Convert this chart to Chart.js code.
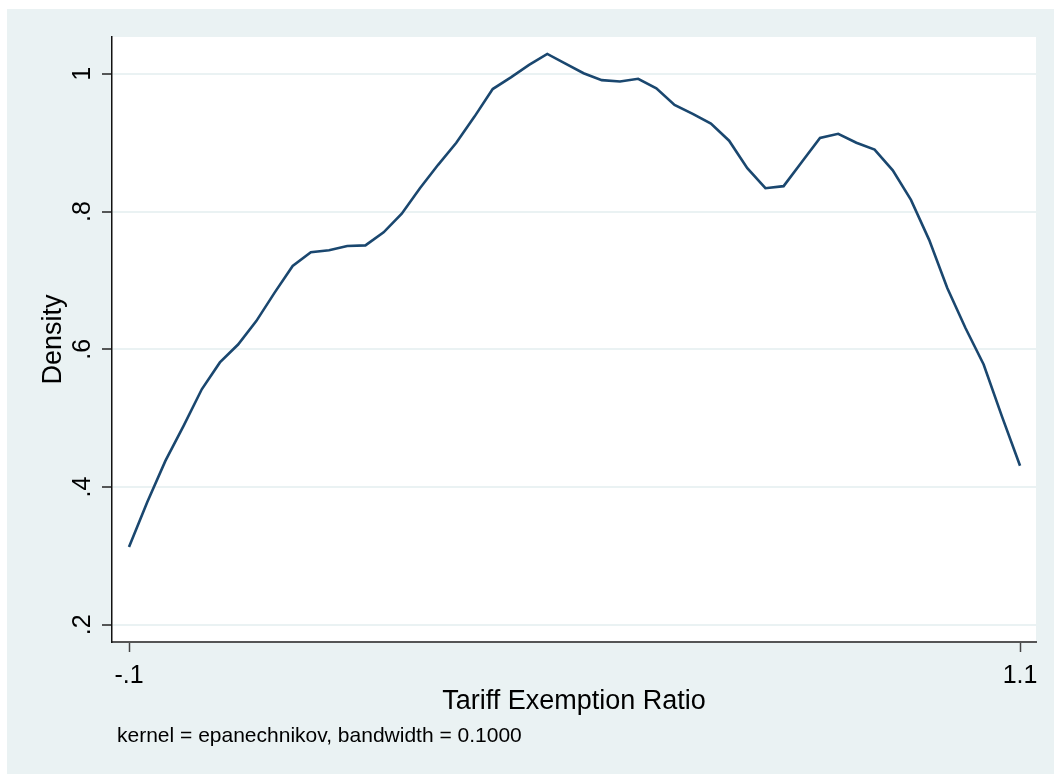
<!DOCTYPE html>
<html>
<head>
<meta charset="utf-8">
<title>Kernel density: Tariff Exemption Ratio</title>
<script src="https://cdn.jsdelivr.net/npm/chart.js@4/dist/chart.umd.min.js"></script>
<style>
  html, body { margin: 0; padding: 0; background: #ffffff; }
  #wrap { width: 1054px; height: 774px; }
</style>
</head>
<body>
<div id="wrap"><canvas id="kd" width="1054" height="774"></canvas></div>
<script>
// Evaluation grid of the kernel density estimate (50 points)
const gridPoints = [
  -0.1000, -0.0755, -0.0510, -0.0265, -0.0020, 0.0224, 0.0469, 0.0714, 0.0959, 0.1204,
   0.1449,  0.1694,  0.1939,  0.2184,  0.2429, 0.2673, 0.2918, 0.3163, 0.3408, 0.3653,
   0.3898,  0.4143,  0.4388,  0.4633,  0.4878, 0.5122, 0.5367, 0.5612, 0.5857, 0.6102,
   0.6347,  0.6592,  0.6837,  0.7082,  0.7327, 0.7571, 0.7816, 0.8061, 0.8306, 0.8551,
   0.8796,  0.9041,  0.9286,  0.9531,  0.9776, 1.0020, 1.0265, 1.0510, 1.0755, 1.1000
];

// Estimated density at each grid point
const densityValues = [
  0.313, 0.378, 0.438, 0.489, 0.542, 0.581, 0.607, 0.641, 0.682, 0.721,
  0.741, 0.744, 0.750, 0.751, 0.770, 0.797, 0.834, 0.868, 0.900, 0.938,
  0.978, 0.995, 1.013, 1.029, 1.015, 1.001, 0.991, 0.989, 0.993, 0.979,
  0.955, 0.942, 0.928, 0.903, 0.863, 0.834, 0.837, 0.872, 0.907, 0.913,
  0.900, 0.890, 0.860, 0.817, 0.759, 0.689, 0.631, 0.578, 0.503, 0.431
];

// Axis ticks and their labels
const xTickValues = [-0.1, 1.1];
const xTickLabels = ['-.1', '1.1'];
const yTickValues = [0.2, 0.4, 0.6, 0.8, 1.0];
const yTickLabels = ['.2', '.4', '.6', '.8', '1'];

const xTitle = 'Tariff Exemption Ratio';
const yTitle = 'Density';
const noteText = 'kernel = epanechnikov, bandwidth = 0.1000';

const FONT = '"Liberation Sans", Arial, Helvetica, sans-serif';
const GRAPH_BG = '#EAF2F3';
const LINE_COLOR = '#1A476F';
const TEXT_COLOR = '#000000';

const points = gridPoints.map((x, i) => ({ x: x, y: densityValues[i] }));

// Graph region (light panel) and white plot region
const backgroundPlugin = {
  id: 'stataBackground',
  beforeDraw(chart) {
    const ctx = chart.ctx;
    const a = chart.chartArea;
    ctx.save();
    ctx.fillStyle = '#ffffff';
    ctx.fillRect(0, 0, chart.width, chart.height);
    ctx.fillStyle = GRAPH_BG;
    ctx.fillRect(7, 9, chart.width - 7, chart.height - 9);
    ctx.fillStyle = '#ffffff';
    ctx.fillRect(a.left, a.top, a.right - a.left, a.bottom - a.top);
    ctx.restore();
  }
};

// Tick labels, axis titles and the note
const labelsPlugin = {
  id: 'stataLabels',
  afterDraw(chart) {
    const ctx = chart.ctx;
    const xs = chart.scales.x;
    const ys = chart.scales.y;
    const a = chart.chartArea;
    ctx.save();
    ctx.fillStyle = TEXT_COLOR;

    // y tick labels, rotated to read bottom-to-top
    ctx.font = '25px ' + FONT;
    ctx.textAlign = 'center';
    ctx.textBaseline = 'alphabetic';
    yTickValues.forEach((v, i) => {
      const py = ys.getPixelForValue(v);
      ctx.save();
      ctx.translate(a.left - 22, py);
      ctx.rotate(-Math.PI / 2);
      ctx.fillText(yTickLabels[i], 0, 0);
      ctx.restore();
    });

    // x tick labels
    xTickValues.forEach((v, i) => {
      const px = xs.getPixelForValue(v);
      ctx.fillText(xTickLabels[i], px, a.bottom + 41);
    });

    // axis titles
    ctx.font = '27px ' + FONT;
    ctx.fillText(xTitle, (a.left + a.right) / 2, a.bottom + 67);
    ctx.save();
    ctx.translate(a.left - 51, (a.top + a.bottom) / 2);
    ctx.rotate(-Math.PI / 2);
    ctx.fillText(yTitle, 0, 0);
    ctx.restore();

    // note
    ctx.font = '21px ' + FONT;
    ctx.textAlign = 'left';
    ctx.fillText(noteText, a.left + 5, a.bottom + 100);
    ctx.restore();
  }
};

new Chart(document.getElementById('kd'), {
  type: 'line',
  data: {
    datasets: [{
      data: points,
      borderColor: LINE_COLOR,
      borderWidth: 2.6,
      pointRadius: 0,
      tension: 0,
      fill: false
    }]
  },
  options: {
    responsive: false,
    animation: false,
    devicePixelRatio: 1,
    layout: { padding: { left: 102, top: 37, right: 18, bottom: 122 } },
    plugins: {
      legend: { display: false },
      tooltip: { enabled: false }
    },
    scales: {
      x: {
        type: 'linear',
        min: -0.1229,
        max: 1.1215,
        offset: false,
        afterBuildTicks(scale) { scale.ticks = xTickValues.map(v => ({ value: v })); },
        ticks: { display: false },
        grid: {
          display: true,
          drawOnChartArea: false,
          drawTicks: true,
          tickLength: 10,
          tickColor: '#444444',
          tickWidth: 1.5
        },
        border: { display: true, color: '#555555', width: 2 }
      },
      y: {
        type: 'linear',
        min: 0.175,
        max: 1.0536,
        afterBuildTicks(scale) { scale.ticks = yTickValues.map(v => ({ value: v })); },
        ticks: { display: false },
        grid: {
          display: true,
          drawOnChartArea: true,
          color: GRAPH_BG,
          lineWidth: 2,
          drawTicks: true,
          tickLength: 10,
          tickColor: '#222222',
          tickWidth: 1.5
        },
        border: { display: true, color: '#111111', width: 1.5 }
      }
    }
  },
  plugins: [backgroundPlugin, labelsPlugin]
});
</script>
</body>
</html>
